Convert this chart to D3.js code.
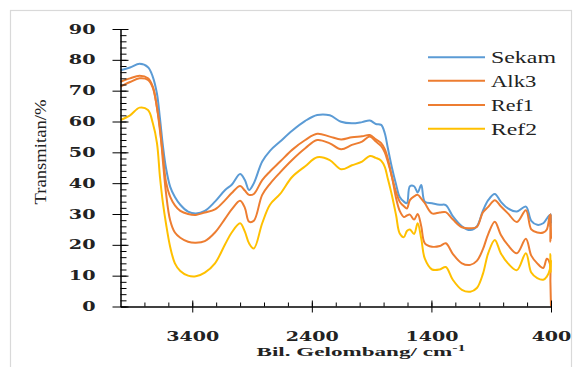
<!DOCTYPE html>
<html>
<head>
<meta charset="utf-8">
<script src="https://cdn.jsdelivr.net/npm/d3@7"></script>
<style>
  body { margin: 0; background: #fff; }
  svg { display: block; }
</style>
</head>
<body>
<div id="chart"></div>
<script>
// FTIR spectra, wavenumber (cm-1) vs transmittance (%)
const wavenumbers = [4000, 3920, 3840, 3770, 3730, 3695, 3670, 3645, 3620, 3585, 3545, 3500, 3435, 3370, 3295, 3210, 3125, 3070, 3000, 2960, 2925, 2885, 2815, 2750, 2665, 2565, 2455, 2355, 2250, 2155, 2065, 1980, 1915, 1865, 1820, 1790, 1765, 1730, 1695, 1665, 1630, 1605, 1580, 1545, 1515, 1485, 1455, 1395, 1330, 1280, 1220, 1145, 1075, 1020, 970, 925, 870, 820, 760, 685, 610, 565, 515, 465, 435, 410, 405, 402, 400];

const sekam = [76.6, 77.5, 78.7, 77.6, 74.5, 69, 61, 52, 45, 38.9, 35.5, 33, 30.8, 30.2, 31, 34, 37.8, 39.5, 43, 41, 37.8, 40, 47, 50.5, 53.5, 57, 60.2, 62.1, 62, 59.9, 59.4, 59.8, 60.3, 59.2, 58.9, 56.2, 51.5, 45, 39.5, 35.5, 34, 33.5, 39, 39, 37, 39.4, 34, 33.5, 33, 32.9, 29.2, 26, 24.8, 26, 31, 34.5, 36.5, 34, 31.8, 30.8, 32.4, 27.8, 26.5, 27, 28.5, 29.7, 26, 30, 27];

const alk3 = [72.9, 74, 74.8, 74, 71.3, 64.5, 57, 49, 40.5, 35.6, 32.8, 31, 30, 29.7, 30.5, 31.5, 34.5, 36.8, 39.1, 37.6, 36.2, 36.5, 41, 43.8, 47, 50.8, 54, 56, 55.1, 54.2, 54.9, 55.2, 55.6, 54.2, 53, 51, 48, 42, 37, 34, 32.5, 31.8, 34.5, 35.7, 36.2, 35, 33.5, 30.2, 30.5, 30.6, 28.2, 25.7, 25.4, 25.8, 30.5, 32.3, 34.5, 32.5, 30.2, 27.4, 31.2, 25, 24, 24, 25, 29.7, 21, 30, 22];

const ref1 = [71.3, 72.8, 74, 73.5, 71, 64.5, 58, 47, 37, 28, 24, 22.3, 21, 20.7, 21.2, 24, 28.5, 31.5, 34.3, 32, 27.5, 27.8, 36.2, 39.8, 43.5, 47.5, 51.3, 54, 52.9, 51, 52.4, 53.5, 55.1, 53.5, 52, 50, 47, 42, 35, 31, 29, 29.5, 29.8, 28.2, 30, 26, 20.5, 19.4, 19.6, 20.5, 17, 14, 13.5, 14.8, 18.5, 23.5, 27.5, 23.3, 19.9, 17.3, 22, 16.5, 14, 12.5, 15.5, 14, 8, 3, 0];

const ref2 = [60.5, 62, 64.5, 63.7, 59.5, 53, 42, 33.5, 27, 19.4, 14, 11.5, 10, 9.8, 11, 14, 20.2, 24, 27, 24.3, 20.5, 18.8, 27, 33, 36.5, 42, 45.5, 48.4, 47.5, 44.5, 45.8, 47, 48.8, 48.2, 47.3, 45.3, 41.5, 36, 29.5, 23.7, 22.5, 24.5, 25, 23.5, 27, 22, 15.5, 12, 12, 12.8, 8.6, 5.4, 4.8, 6, 10.5, 17.3, 21.6, 17.3, 14, 11.8, 17.3, 11, 9.2, 8.7, 9.7, 12, 17, 11, 15];

const seriesNames = ['Sekam', 'Alk3', 'Ref1', 'Ref2'];
const seriesValues = [sekam, alk3, ref1, ref2];
const seriesColors = ['#5B9BD5', '#ED7D31', '#ED7D31', '#FFC000'];

const xMajorTicks = [3400, 2400, 1400, 400];
const xMinorTicks = d3.range(3800, 399, -200);
const yMajorTicks = d3.range(0, 91, 10);
const yMinorTicks = d3.range(0, 91, 2);

const WIDTH = 579;
const HEIGHT = 367;

const svg = d3.select('#chart')
    .append('svg')
        .attr('width', WIDTH)
        .attr('height', HEIGHT);

// outer chart border
svg.append('rect')
    .attr('x', 10.5).attr('y', 10.5)
    .attr('width', 561).attr('height', 370)
    .attr('fill', 'none')
    .attr('stroke', '#d9d9d9')
    .attr('stroke-width', 1.2);

const x = d3.scaleLinear().domain([4000, 400]).range([120.5, 551]);
const y = d3.scaleLinear().domain([0, 90]).range([306.5, 29]);

// stretch text horizontally so it fills a target width
function stretch(sel, targetW) {
    const w = sel.node().getComputedTextLength();
    return targetW / w;
}

// --- series lines
const line = d3.line()
    .x((d, i) => x(wavenumbers[i]))
    .y(d => y(d))
    .curve(d3.curveCatmullRom.alpha(0.5));

svg.selectAll('path.series')
    .data(seriesValues)
    .enter()
    .append('path')
        .attr('class', 'series')
        .attr('d', line)
        .attr('fill', 'none')
        .attr('stroke', (d, i) => seriesColors[i])
        .attr('stroke-width', 2)
        .attr('stroke-linejoin', 'round');

// --- y axis
const yMinor = svg.append('g')
    .attr('transform', 'translate(120.5,0)')
    .call(d3.axisRight(y).tickValues(yMinorTicks).tickSize(6).tickSizeOuter(0).tickFormat(''));
yMinor.select('.domain').remove();

const yAxis = svg.append('g')
    .attr('transform', 'translate(120.5,0)')
    .call(d3.axisLeft(y).tickValues(yMajorTicks).tickSize(8).tickSizeOuter(0));
yAxis.selectAll('.tick line').attr('x1', 8);
yAxis.select('.domain').attr('stroke-width', 1.5);

const yText = yAxis.selectAll('.tick text')
    .attr('font-family', 'DejaVu Serif')
    .attr('font-size', 13)
    .attr('font-weight', 'bold')
    .attr('fill', '#222');
const sy = stretch(yAxis.select('.tick:last-of-type text'), 26.7);
yText.attr('x', -25 / sy).attr('transform', `scale(${sy},1)`);

// --- x axis
const xMinor = svg.append('g')
    .attr('transform', 'translate(0,306.5)')
    .call(d3.axisTop(x).tickValues(xMinorTicks).tickSize(4).tickSizeOuter(0).tickFormat(''));
xMinor.select('.domain').remove();

const xAxis = svg.append('g')
    .attr('transform', 'translate(0,306.5)')
    .call(d3.axisBottom(x).tickValues(xMajorTicks).tickSize(6).tickSizeOuter(0).tickFormat(d3.format('d')));
xAxis.selectAll('.tick line').attr('y1', -6);
xAxis.select('.domain').attr('stroke-width', 1.5);

const xText = xAxis.selectAll('.tick text')
    .attr('font-family', 'DejaVu Serif')
    .attr('font-size', 13)
    .attr('font-weight', 'bold')
    .attr('fill', '#222')
    .attr('y', 35).attr('dy', 0);
const sx = stretch(xAxis.select('.tick text'), 53);
xText.attr('transform', `scale(${sx},1)`);

svg.selectAll('.tick line, .domain').attr('stroke', '#000');

// --- axis titles
const xTitle = svg.append('text')
    .attr('text-anchor', 'middle')
    .attr('font-family', 'Liberation Serif')
    .attr('font-weight', 'bold')
    .attr('font-size', 13)
    .attr('fill', '#222');
xTitle.append('tspan').text('Bil. Gelombang/ cm');
xTitle.append('tspan').attr('font-size', 9).attr('dy', -5).text('-1');
const sxt = 210 / xTitle.node().getBBox().width;
xTitle.attr('transform', `translate(361,356) scale(${sxt},1)`);

const yTitle = svg.append('text')
    .attr('text-anchor', 'middle')
    .attr('font-family', 'Liberation Serif')
    .attr('font-size', 16)
    .attr('fill', '#222')
    .text('Transmitan/%');
const syt = stretch(yTitle, 105);
yTitle.attr('transform', `translate(46,152) rotate(-90) scale(${syt},1)`);

// --- legend
const legendY = [57.3, 80.7, 105, 128.7];
const legendW = [65, 45.3, 42.7, 46];
const legend = svg.selectAll('g.legend')
    .data(seriesNames)
    .enter()
    .append('g')
        .attr('class', 'legend')
        .attr('transform', (d, i) => `translate(0,${legendY[i]})`);

legend.append('line')
    .attr('x1', 428).attr('x2', 485)
    .attr('stroke', (d, i) => seriesColors[i])
    .attr('stroke-width', 2);

legend.append('text')
    .attr('font-family', 'Liberation Serif')
    .attr('font-size', 16)
    .attr('fill', '#222')
    .attr('y', 6)
    .text(d => d)
    .each(function (d, i) {
        const s = legendW[i] / this.getComputedTextLength();
        d3.select(this).attr('transform', `translate(491,0) scale(${s},1)`);
    });
</script>
</body>
</html>
